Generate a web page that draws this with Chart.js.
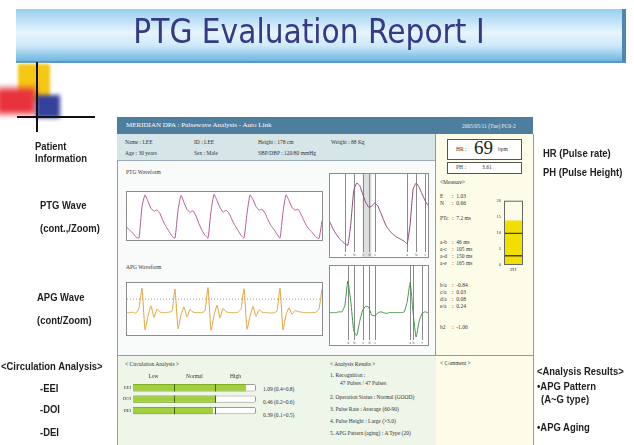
<!DOCTYPE html>
<html>
<head>
<meta charset="utf-8">
<script src="https://cdn.jsdelivr.net/npm/chart.js@4.4.1/dist/chart.umd.min.js"></script>
<style>
  body { margin: 0; }
  #page { position: relative; width: 634px; height: 445px; overflow: hidden; background: #fff; font-family: "Liberation Serif", serif; }
  .abs { position: absolute; }
  .side { position: absolute; font-family: "Liberation Sans", sans-serif; font-weight: bold; font-size: 10.5px; color: #1e1e1e; white-space: nowrap; line-height: 12px; transform: scaleX(0.9); transform-origin: left; }
  .tiny { position: absolute; font-size: 5.5px; color: #333; white-space: nowrap; line-height: 7px; }
  .box { position: absolute; border: 1px solid #8c8c8c; background: #fff; }
  canvas { display: block; }
</style>
</head>
<body>
<div id="page">
  <!-- title banner -->
  <div class="abs" style="left:16px;top:9px;width:606px;height:52px;background:linear-gradient(#98cfee,#e6f5fd 45%,#cfeaf9 70%,#6fb6e2);border-right:4px solid #4f86b0;border-bottom:2px solid #5a98c8;"></div>
  <div class="abs" style="left:6px;top:14px;width:606px;text-align:center;font-family:'DejaVu Sans',sans-serif;font-size:33px;line-height:36px;color:#363a86;transform:scaleX(0.9);">PTG Evaluation Report I</div>

  <!-- corner decoration -->
  <div class="abs" style="left:18px;top:64px;width:32px;height:38px;background:#f5c814;filter:blur(1.5px);"></div>
  <div class="abs" style="left:-4px;top:88px;width:40px;height:26px;background:#e8323c;filter:blur(3px);"></div>
  <div class="abs" style="left:36px;top:95px;width:24px;height:23px;background:#34409c;filter:blur(2px);"></div>
  <div class="abs" style="left:36px;top:62px;width:2px;height:70px;background:#111;"></div>
  <div class="abs" style="left:17px;top:116px;width:78px;height:2px;background:#111;"></div>

  <!-- report frame -->
  <div class="abs" style="left:117px;top:117px;width:416px;height:17px;background:#4e7e9e;"></div>
  <div class="tiny" style="left:126px;top:122px;color:#fff;font-size:7px;">MERIDIAN DPA : Pulsewave Analysis - Auto Link</div>
  <div class="tiny" style="left:462px;top:123px;color:#e8f0f6;">2005/05/11 (Tue) PC0-2</div>
  <div class="abs" style="left:117px;top:134px;width:318px;height:26px;background:#d6e5e7;border-bottom:1px solid #9ab;"></div>
  <div class="tiny" style="left:125px;top:139px;">Name : LEE</div>
  <div class="tiny" style="left:194px;top:139px;">ID : LEE</div>
  <div class="tiny" style="left:258px;top:139px;">Height : 178 cm</div>
  <div class="tiny" style="left:331px;top:139px;">Weight : 88 Kg</div>
  <div class="tiny" style="left:125px;top:150px;">Age : 30 years</div>
  <div class="tiny" style="left:194px;top:150px;">Sex : Male</div>
  <div class="tiny" style="left:258px;top:150px;">SBP/DBP : 120/80 mmHg</div>
  <div class="abs" style="left:117px;top:161px;width:318px;height:194px;background:#f9fbfb;border-left:1px solid #999;"></div>
  <div class="abs" style="left:435px;top:134px;width:97px;height:311px;background:#fdfce9;border-left:1px solid #999;border-right:1px solid #999;"></div>
  <div class="abs" style="left:117px;top:355px;width:318px;height:90px;background:#eef6ea;border-top:1px solid #999;border-left:1px solid #999;"></div>
  <div class="abs" style="left:435px;top:355px;width:98px;height:1px;background:#999;"></div>

  <!-- waveforms -->
  <div class="tiny" style="left:126px;top:169px;">PTG Waveform</div>
  <div class="box" style="left:126px;top:191px;width:195px;height:48px;"><canvas id="ptgCont" width="195" height="48"></canvas></div>
  <div class="box" style="left:329px;top:173px;width:98px;height:83px;"><canvas id="ptgZoom" width="98" height="83"></canvas></div>
  <div class="tiny" style="left:126px;top:264px;">APG Waveform</div>
  <div class="box" style="left:126px;top:282px;width:195px;height:52px;"><canvas id="apgCont" width="195" height="52"></canvas></div>
  <div class="box" style="left:329px;top:265px;width:98px;height:79px;"><canvas id="apgZoom" width="98" height="79"></canvas></div>

  <!-- right measure panel -->
  <div class="box" style="left:447px;top:139px;width:73px;height:19px;border-color:#555;"></div>
  <div class="tiny" style="left:456px;top:146px;">HR :</div>
  <div class="abs" style="left:474px;top:137px;font-size:19px;color:#222;">69</div>
  <div class="tiny" style="left:498px;top:146px;">bpm</div>
  <div class="box" style="left:447px;top:162px;width:73px;height:10px;border-color:#555;"></div>
  <div class="tiny" style="left:456px;top:164px;">PH :</div>
  <div class="tiny" style="left:482px;top:164px;">3.61</div>
  <div class="tiny" style="left:440px;top:179px;">&lt;Measure&gt;</div>
  <div id="measure"></div>
  <div class="abs" style="left:490px;top:195px;"><canvas id="gauge" width="33" height="80"></canvas></div>

  <!-- circulation analysis -->
  <div class="tiny" style="left:125px;top:361px;">&lt; Circulation Analysis &gt;</div>
  <div class="abs" style="left:118px;top:372px;"><canvas id="circ" width="140" height="49"></canvas></div>
  <div id="circText"></div>

  <!-- analysis results -->
  <div class="tiny" style="left:330px;top:361px;">&lt; Analysis Results &gt;</div>
  <div class="tiny" style="left:330px;top:372px;">1. Recognition :</div>
  <div class="tiny" style="left:340px;top:380px;">47 Pulses / 47 Pulses</div>
  <div class="tiny" style="left:330px;top:394px;">2. Operation Status : Normal (GOOD)</div>
  <div class="tiny" style="left:330px;top:406px;">3. Pulse Rate : Average (60-90)</div>
  <div class="tiny" style="left:330px;top:418px;">4. Pulse Height : Large (&gt;3.0)</div>
  <div class="tiny" style="left:330px;top:430px;">5. APG Pattern (aging) : A Type (20)</div>
  <div class="tiny" style="left:440px;top:360px;">&lt; Comment &gt;</div>

  <!-- slide captions -->
  <div class="side" style="left:35px;top:140px;">Patient</div>
  <div class="side" style="left:35px;top:152px;">Information</div>
  <div class="side" style="left:40px;top:199px;">PTG Wave</div>
  <div class="side" style="left:40px;top:222px;">(cont.,/Zoom)</div>
  <div class="side" style="left:37px;top:291px;">APG Wave</div>
  <div class="side" style="left:37px;top:314px;">(cont/Zoom)</div>
  <div class="side" style="left:1px;top:360px;">&lt;Circulation Analysis&gt;</div>
  <div class="side" style="left:40px;top:382px;">-EEI</div>
  <div class="side" style="left:40px;top:403px;">-DOI</div>
  <div class="side" style="left:40px;top:426px;">-DEI</div>
  <div class="side" style="left:543px;top:147px;">HR (Pulse rate)</div>
  <div class="side" style="left:543px;top:166px;">PH (Pulse Height)</div>
  <div class="side" style="left:537px;top:365px;">&lt;Analysis Results&gt;</div>
  <div class="side" style="left:537px;top:380px;">•APG Pattern</div>
  <div class="side" style="left:541px;top:393px;">(A~G type)</div>
  <div class="side" style="left:537px;top:421px;">•APG Aging</div>
</div>

<script>
// PTG / APG samples (0-100 scale)
const ptgCont = [26, 20, 14, 6, 4, 70, 94, 80, 66, 60, 63, 55, 40, 28, 18, 8, 4, 62, 93, 78, 64, 58, 61, 50,
  34, 20, 10, 4, 60, 95, 82, 68, 58, 62, 56, 42, 30, 20, 10, 4, 55, 94, 84, 70, 62, 64, 56, 42, 30, 22,
  12, 4, 58, 94, 82, 68, 62, 64, 54, 40, 28, 20, 14, 6, 3, 40];
const ptgZoom = [42, 34, 28, 23, 19, 16, 14, 40, 80, 89, 86, 76, 66, 60, 61, 65, 62, 54, 45, 37, 32, 28,
  25, 23, 21, 19, 16, 40, 82, 89, 84, 76, 68, 62];
const ptgMarks = [5, 8, 11, 13, 15, 26, 29, 32];
const ptgMarkLabels = ['a', 'b', 'c', 'd', 'e', 'a', 'b', 'c'];

const apgCont = [43, 43, 44, 42, 52, 90, 10, 36, 56, 34, 50, 44, 43, 43, 44, 46, 88, 12, 38, 54, 35, 49,
  44, 43, 43, 43, 47, 91, 9, 37, 57, 33, 51, 45, 43, 43, 43, 44, 50, 89, 11, 36, 55, 36, 48, 44, 43,
  43, 42, 43, 46, 90, 10, 38, 52, 40, 47, 45, 44, 43, 43, 43, 43, 44, 50, 88];
const apgZoom = [41, 41, 41, 42, 42, 50, 81, 55, 18, 12, 30, 44, 49, 48, 38, 37, 40, 42, 41, 40, 41, 41,
  41, 41, 41, 42, 55, 79, 40, 10, 30, 40, 42, 41];
const apgMarks = [6, 8, 11, 13, 15, 27, 28, 31];
const apgMarkLabels = ['a', 'b', 'c', 'd', 'e', 'a', 'b', 'c'];

// measure panel
const measureNames = ['E', 'N', 'PTc', 'a-b', 'a-c', 'a-d', 'a-e', 'b/a', 'c/a', 'd/a', 'e/a', 'b2'];
const measureValues = ['1.03', '0.66', '7.2 ms', '46 ms', '105 ms', '150 ms', '165 ms', '-0.84', '0.03', '0.08', '0.24', '-1.06'];
const gaugeTicks = [0, 5, 10, 15, 20];
const gaugeSegments = [3, 7, 3.7];   // bands up to 3, 10, then top of PH bar

// circulation analysis
const circRows = ['EEI', 'DOI', 'DEI'];
const circValues = [2.76, 2.02, 1.95];
const circText = ['1.09  (0.4~0.8)', '0.46  (0.2~0.6)', '0.39  (0.1~0.5)'];
const circZones = ['Low', 'Normal', 'High'];

Chart.defaults.font.family = '"Liberation Serif", serif';
Chart.defaults.animation = false;
Chart.defaults.plugins.legend.display = false;
Chart.defaults.plugins.tooltip.enabled = false;

// vertical marker lines, shaded band, dotted grid lines, frame
const extras = {
  id: 'extras',
  beforeDatasetsDraw(chart, args, o) {
    const { ctx, chartArea: a, scales } = chart;
    ctx.save();
    if (o.band) {
      const x0 = scales.x.getPixelForValue(o.band[0]);
      const x1 = scales.x.getPixelForValue(o.band[1]);
      ctx.fillStyle = 'rgba(150,150,150,0.3)';
      ctx.fillRect(x0, a.top, x1 - x0, a.bottom - a.top);
    }
    (o.hlines || []).forEach(v => {
      const y = scales.y.getPixelForValue(v);
      ctx.strokeStyle = '#9a9a9a';
      ctx.setLineDash([1, 2]);
      ctx.lineWidth = 1;
      ctx.beginPath(); ctx.moveTo(a.left, y + 0.5); ctx.lineTo(a.right, y + 0.5); ctx.stroke();
    });
    ctx.setLineDash([]);
    (o.marks || []).forEach((v, i) => {
      const x = Math.round(scales.x.getPixelForValue(v)) + 0.5;
      ctx.strokeStyle = '#8a8a8a';
      ctx.lineWidth = 1;
      ctx.beginPath(); ctx.moveTo(x, a.top); ctx.lineTo(x, a.bottom - 5); ctx.stroke();
      ctx.fillStyle = '#555';
      ctx.font = '4px "Liberation Serif"';
      ctx.textAlign = 'center';
      ctx.fillText(o.labels[i], x, a.bottom - 1);
    });
    ctx.restore();
  },
  afterDatasetsDraw(chart, args, o) {
    const { ctx, chartArea: a, scales } = chart;
    ctx.save();
    if (o.dividers) {
      const meta = chart.getDatasetMeta(0);
      ctx.strokeStyle = '#3f6a14';
      ctx.lineWidth = 1;
      meta.data.forEach(bar => {
        o.dividers.forEach(v => {
          const x = Math.round(scales.x.getPixelForValue(v)) + 0.5;
          ctx.beginPath(); ctx.moveTo(x, bar.y - bar.height / 2); ctx.lineTo(x, bar.y + bar.height / 2); ctx.stroke();
        });
      });
    }
    if (o.frame) {
      ctx.strokeStyle = '#666';
      ctx.lineWidth = 1;
      ctx.strokeRect(a.left + 0.5, a.top + 0.5, a.right - a.left - 1, a.bottom - a.top - 1);
    }
    ctx.restore();
  }
};

const crearOnda = (id, values, color, extraOpts) => {
  new Chart(document.getElementById(id), {
    type: 'line',
    data: {
      labels: values.map((v, i) => i),
      datasets: [{ data: values, borderColor: color, borderWidth: 1, pointRadius: 0, tension: 0.15 }]
    },
    options: {
      responsive: false,
      layout: { padding: 0 },
      scales: {
        x: { display: false },
        y: { display: false, min: 0, max: 100 }
      },
      plugins: { extras: extraOpts }
    },
    plugins: [extras]
  });
};

crearOnda('ptgCont', ptgCont, '#b25c98', {});
crearOnda('ptgZoom', ptgZoom, '#8a4a7a', { marks: ptgMarks, labels: ptgMarkLabels, band: [11, 14] });
crearOnda('apgCont', apgCont, '#e0a13a', { hlines: [70] });
crearOnda('apgZoom', apgZoom, '#3f9447', { marks: apgMarks, labels: apgMarkLabels });

// measure list
const measureBox = document.getElementById('measure');
const measureTops = [193, 200, 215, 239, 246, 253, 260, 282, 289, 296, 303, 324];
measureNames.forEach((n, i) => {
  measureBox.insertAdjacentHTML('beforeend',
    `<div class="tiny" style="left:440px;top:${measureTops[i]}px;">${n}</div>` +
    `<div class="tiny" style="left:452px;top:${measureTops[i]}px;">:&nbsp; ${measureValues[i]}</div>`);
});

const noGrid = { display: false, drawTicks: false, tickLength: 0 };

// PH gauge
new Chart(document.getElementById('gauge'), {
  type: 'bar',
  data: {
    labels: ['PH'],
    datasets: gaugeSegments.map((v, i) => ({
      data: [v],
      backgroundColor: '#f1df00',
      borderColor: '#4a4200',
      borderWidth: { top: i < gaugeSegments.length - 1 ? 1.5 : 0, left: 0, right: 0, bottom: 0 },
      borderSkipped: false,
      barPercentage: 1,
      categoryPercentage: 1
    }))
  },
  options: {
    responsive: false,
    layout: { padding: { top: 4 } },
    scales: {
      x: {
        stacked: true, grid: noGrid, border: { display: false },
        ticks: { font: { size: 5 }, color: '#444', padding: 2 },
        afterFit: s => { s.height = 10; }
      },
      y: {
        stacked: true, min: gaugeTicks[0], max: gaugeTicks[gaugeTicks.length - 1],
        grid: noGrid, border: { display: false },
        afterBuildTicks: s => { s.ticks = gaugeTicks.map(v => ({ value: v })); },
        ticks: { font: { size: 4.5 }, color: '#444', padding: 3 },
        afterFit: s => { s.width = 14; }
      }
    },
    plugins: { extras: { frame: true } }
  },
  plugins: [extras]
});

// circulation bars
const circMax = circZones.length;
new Chart(document.getElementById('circ'), {
  type: 'bar',
  data: {
    labels: circRows,
    datasets: [
      { data: circValues, backgroundColor: '#a2d03c', borderColor: '#7fae22', borderWidth: { top: 1, bottom: 1, left: 0, right: 0 }, borderSkipped: false, order: 0 },
      { data: circRows.map(() => circMax), backgroundColor: '#ffffff', borderColor: '#9a9a9a', borderWidth: 1, borderRadius: 2, borderSkipped: false, order: 1 }
    ]
  },
  options: {
    responsive: false,
    indexAxis: 'y',
    layout: { padding: { right: 2 } },
    datasets: { bar: { grouped: false, barPercentage: 0.64, categoryPercentage: 1 } },
    scales: {
      x: {
        position: 'top', min: 0, max: circMax,
        grid: noGrid, border: { display: false },
        afterBuildTicks: s => { s.ticks = circZones.map((z, i) => ({ value: i + 0.5 })); },
        ticks: { font: { size: 5.5 }, color: '#333', padding: 2, callback: (v, i) => circZones[i] },
        afterFit: s => { s.height = 10; }
      },
      y: {
        grid: noGrid, border: { display: false },
        ticks: { font: { size: 4.5 }, color: '#333', padding: 2 },
        afterFit: s => { s.width = 15; }
      }
    },
    plugins: { extras: { dividers: [1, 2] } }
  },
  plugins: [extras]
});

const circBox = document.getElementById('circText');
circText.forEach((t, i) => {
  circBox.insertAdjacentHTML('beforeend', `<div class="tiny" style="left:263px;top:${386 + i * 13}px;">${t}</div>`);
});
</script>
</body>
</html>
